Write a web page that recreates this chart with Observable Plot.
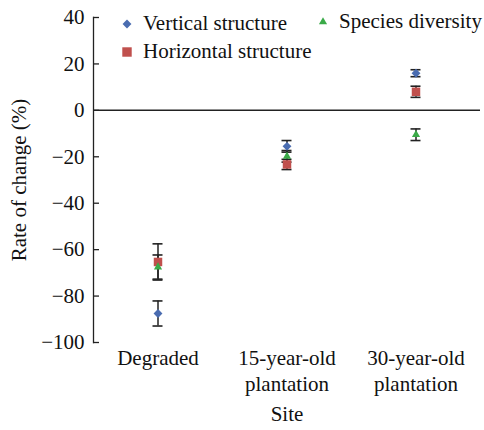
<!DOCTYPE html>
<html>
<head>
<meta charset="utf-8">
<script src="https://cdn.jsdelivr.net/npm/d3@7"></script>
<script src="https://cdn.jsdelivr.net/npm/@observablehq/plot@0.6"></script>
<style>
  html, body { margin: 0; padding: 0; background: #fff; }
  #wrap { position: relative; width: 484px; height: 430px; font-family: "Liberation Serif", "Times New Roman", serif; }
  .leg { position: absolute; font-family: "Liberation Serif", "Times New Roman", serif; font-size: 21px; color: #111; white-space: nowrap; line-height: 1; }
  .sym { position: absolute; }
</style>
</head>
<body>
<div id="wrap"></div>
<script>
const sites = ["Degraded", "15-year-old plantation", "30-year-old plantation"];
const seriesNames = ["Vertical structure", "Horizontal structure", "Species diversity"];
const vertical = [-87.5, -15.5, 16];
const verticalErr = [5.4, 2.5, 1.5];
const horizontal = [-65.3, -23.3, 8];
const horizontalErr = [7.8, 2.2, 2.4];
const species = [-67.5, -19.8, -10.5];
const speciesErr = [5.2, 2.5, 2.5];
const yTicks = [-100, -80, -60, -40, -20, 0, 20, 40];
const colors = {"Vertical structure": "#4a6cb0", "Horizontal structure": "#c0504d", "Species diversity": "#3aaa48"};
const symbols = {"Vertical structure": "diamond2", "Horizontal structure": "square2", "Species diversity": "triangle2"};
const radii = {"Vertical structure": 4, "Horizontal structure": 5.4, "Species diversity": 3.9};

const rows = [];
const drawOrder = ["Species diversity", "Vertical structure", "Horizontal structure"];
const vals = {"Vertical structure": [vertical, verticalErr], "Horizontal structure": [horizontal, horizontalErr], "Species diversity": [species, speciesErr]};
for (const s of drawOrder) {
  sites.forEach((site, i) => {
    rows.push({series: s, site, v: vals[s][0][i], e: vals[s][1][i]});
  });
}

const bandW = (484 - 93 - 4) / 3;
const capW = 10;
const FONT = '"Liberation Serif", "Times New Roman", serif';

const plot = Plot.plot({
  width: 484,
  height: 430,
  marginLeft: 93,
  marginRight: 4,
  marginTop: 17,
  marginBottom: 88,
  style: {fontFamily: FONT, fontSize: "21px", color: "#111", background: "transparent"},
  x: {type: "band", domain: sites, padding: 0},
  y: {domain: [-100, 40]},
  symbol: {type: "identity"},
  r: {type: "identity"},
  marks: [
    Plot.frame({anchor: "left", stroke: "#222", strokeWidth: 1.3}),
    Plot.ruleY([0], {stroke: "#222", strokeWidth: 1.5}),
    Plot.axisY({ticks: yTicks, tickSize: -6, tickPadding: 15, tickFormat: d => d < 0 ? "\u2212" + Math.abs(d) : String(d), fontSize: 21, label: "Rate of change (%)", labelAnchor: "center", labelOffset: 82, labelArrow: "none", stroke: "#222", strokeWidth: 1.3}),
    Plot.axisX({tickSize: 0, tickPadding: 4, tickFormat: d => d.replace(" ", "\n"), lineHeight: 1.25, fontSize: 21, label: "Site", labelAnchor: "center", labelOffset: 78, labelArrow: "none"}),
    Plot.ruleX(rows, {x: "site", y1: d => d.v - d.e, y2: d => d.v + d.e, stroke: "#222", strokeWidth: 1.5}),
    Plot.tickY(rows, {x: "site", y: d => d.v - d.e, stroke: "#222", strokeWidth: 1.6, insetLeft: (bandW - capW) / 2, insetRight: (bandW - capW) / 2}),
    Plot.tickY(rows, {x: "site", y: d => d.v + d.e, stroke: "#222", strokeWidth: 1.6, insetLeft: (bandW - capW) / 2, insetRight: (bandW - capW) / 2}),
    Plot.dot(rows, {x: "site", y: "v", symbol: d => symbols[d.series], r: d => radii[d.series], fill: d => colors[d.series], stroke: "none"})
  ]
});
const wrap = document.getElementById("wrap");
wrap.appendChild(plot);

// Legend overlay (text as HTML)
const legend = [
  {name: seriesNames[0], sx: 127, sy: 24, tx: 143, ty: 13},
  {name: seriesNames[1], sx: 127, sy: 52, tx: 143, ty: 41},
  {name: seriesNames[2], sx: 323, sy: 22, tx: 339, ty: 11}
];
for (const l of legend) {
  const svg = d3.select(wrap).append("svg").attr("class", "sym").attr("width", 20).attr("height", 20)
    .style("left", (l.sx - 10) + "px").style("top", (l.sy - 10) + "px");
  const typ = {"Vertical structure": d3.symbolDiamond2, "Horizontal structure": d3.symbolSquare2, "Species diversity": d3.symbolTriangle2}[l.name];
  const R = {"Vertical structure": 4, "Horizontal structure": 6, "Species diversity": 3.9}[l.name];
  svg.append("path").attr("transform", "translate(10,10)").attr("d", d3.symbol(typ, Math.PI * R * R)()).attr("fill", colors[l.name]);
  const t = document.createElement("div");
  t.className = "leg";
  t.textContent = l.name;
  t.style.left = l.tx + "px";
  t.style.top = l.ty + "px";
  wrap.appendChild(t);
}
</script>
</body>
</html>
